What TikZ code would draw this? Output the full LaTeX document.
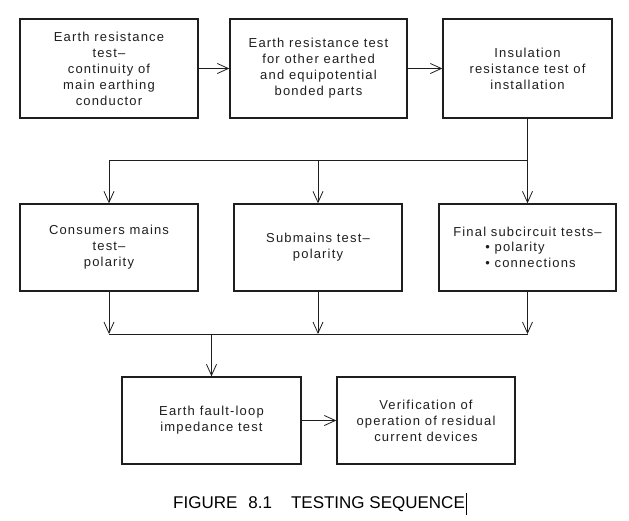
\documentclass[tikz,border=0pt]{standalone}
\usepackage{fontspec}
\setmainfont{Liberation Sans}
\newfontfamily\boxfont[LetterSpace=9]{Liberation Sans}
\newfontfamily\capfont{Liberation Sans}
\usetikzlibrary{arrows.meta}
\definecolor{ink}{HTML}{1E1E1E}
\tikzset{
  box/.style={draw=ink, line width=1.4pt, rectangle, inner sep=0pt, align=center,
    text=ink, font=\boxfont\fontsize{13}{16}\selectfont},
  conn/.style={draw=ink, line width=0.8pt},
  arr/.style={conn, -{Straight Barb[length=11pt,width=10pt,line width=0.8pt]}},
}
\begin{document}
\begin{tikzpicture}[x=1pt,y=-1pt]
\useasboundingbox (0,0) rectangle (629,520);
% top row
\node[box, minimum width=178pt, minimum height=99pt] (b1) at (109,68.5)
  {Earth resistance\\test–\\continuity of\\main earthing\\conductor};
\node[box, minimum width=177pt, minimum height=99pt] (b2) at (318.5,68.5)
  {Earth resistance test\\for other earthed\\and equipotential\\bonded parts};
\node[box, minimum width=169pt, minimum height=99pt] (b3) at (527.5,68.5)
  {Insulation\\resistance test of\\installation};
% middle row
\node[box, minimum width=178pt, minimum height=87pt] (b4) at (109,247.5)
  {Consumers mains\\test–\\polarity};
\node[box, minimum width=168pt, minimum height=87pt] (b5) at (318,247.5)
  {Submains test–\\polarity};
\node[box, minimum width=177pt, minimum height=87pt, align=left] (b6) at (527.5,247.5)
  {Final subcircuit tests–\\[-1pt]\hspace*{32pt}• polarity\\\hspace*{32pt}• connections};
% bottom row
\node[box, minimum width=179pt, minimum height=87pt] (b7) at (211.5,420.5)
  {Earth fault-loop\\impedance test};
\node[box, minimum width=178pt, minimum height=87pt] (b8) at (426,420.5)
  {Verification of\\operation of residual\\current devices};
% bus coordinates
\coordinate (busT) at (0,160);
\coordinate (busB) at (0,334);
% connectors
\draw[arr] (b1.east) -- (b2.west);
\draw[arr] (b2.east) -- (b3.west);
\draw[conn] (b3.south) -- (b3.south |- busT) -- (b4.north |- busT);
\draw[arr] (b4.north |- busT) -- (b4.north);
\draw[arr] (b5.north |- busT) -- (b5.north);
\draw[arr] (b3.south |- busT) -- (b6.north);
\draw[arr] (b4.south) -- (b4.south |- busB);
\draw[arr] (b5.south) -- (b5.south |- busB);
\draw[arr] (b6.south) -- (b6.south |- busB);
\draw[conn] (b4.south |- busB) -- (b6.south |- busB);
\draw[arr] (b7.north |- busB) -- (b7.north);
\draw[arr] (b7.east) -- (b8.west);
% caption
\node[anchor=base west, inner sep=0pt, text=black, font=\capfont\fontsize{17}{20}\selectfont] (cap) at (173,508)
  {FIGURE\hspace{11pt}8.1\hspace{19pt}TESTING SEQUENCE};
\draw[line width=1pt, black] (466,493) -- (466,515);
\end{tikzpicture}
\end{document}
